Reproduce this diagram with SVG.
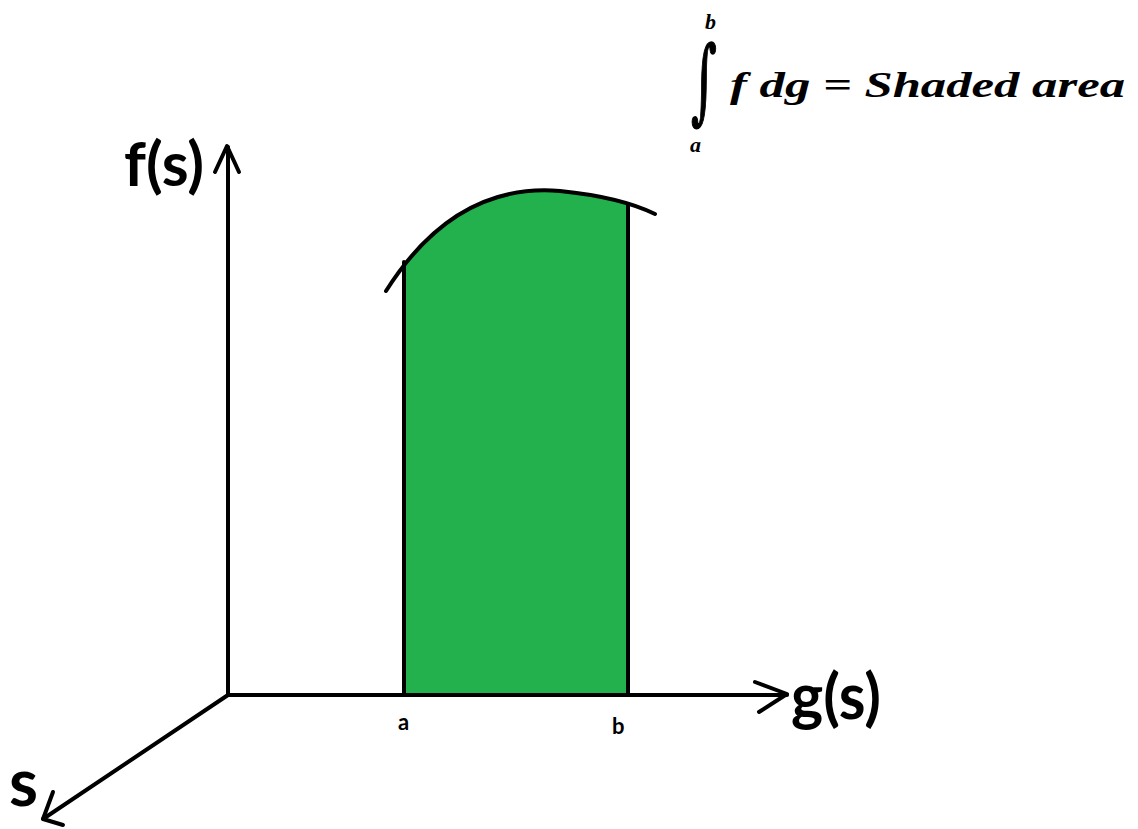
<svg xmlns="http://www.w3.org/2000/svg" width="1138" height="829" viewBox="0 0 1138 829">
<style>
.ax{fill:none;stroke:#000;stroke-width:4;stroke-linecap:round;stroke-linejoin:round}
.lbl{font-family:Lato,"Liberation Sans",sans-serif;font-weight:bold;fill:#000}
.math{font-family:"Liberation Serif","DejaVu Serif",serif;font-weight:bold;font-style:italic;fill:#000}
</style>
<defs>
<clipPath id="band"><rect x="404" y="100" width="224" height="596"/></clipPath>
</defs>
<rect width="1138" height="829" fill="#fff"/>
<g id="area">
<path d="M386,291 Q455,182 560,191 Q620,197 655,214 L655,695 L386,695 Z" fill="#22B14C" clip-path="url(#band)"/>
<line x1="404" y1="262" x2="404" y2="695" class="ax"/>
<line x1="628" y1="204" x2="628" y2="695" class="ax"/>
<path d="M386,291 Q455,182 560,191 Q620,197 655,214" class="ax" stroke-width="5"/>
</g>
<g id="connectors">
<path d="M228,695 L228,147" class="ax"/>
<path d="M215,172 L227,146 L239,172" class="ax"/>
<path d="M228,695 L787,695" class="ax"/>
<path d="M755,682 L787,694 L759,712" class="ax"/>
<path d="M228,695 L43,819" class="ax"/>
<path d="M53,792 L43,819 L63,825" class="ax"/>
</g>
<g id="labels">
<text class="lbl" x="124" y="186" font-size="62" textLength="80" lengthAdjust="spacingAndGlyphs">f(s)</text>
<text class="lbl" x="791" y="719" font-size="64" textLength="90" lengthAdjust="spacingAndGlyphs">g(s)</text>
<text class="lbl" x="9" y="806" font-size="66">s</text>
<text class="lbl" x="398" y="730" font-size="22">a</text>
<text class="lbl" x="612" y="734" font-size="22">b</text>
</g>
<g id="formula">
<text x="0" y="0" font-family="'DejaVu Serif',serif" font-size="50" fill="#000" stroke="#000" stroke-width="0.8" transform="translate(691,112) scale(1,1.85)">∫</text>
<text class="math" x="705" y="29" font-size="22">b</text>
<text class="math" x="690" y="152" font-size="22">a</text>
<text class="math" x="730" y="97" font-size="36" textLength="395" lengthAdjust="spacingAndGlyphs">f dg = Shaded area</text>
</g>
</svg>
